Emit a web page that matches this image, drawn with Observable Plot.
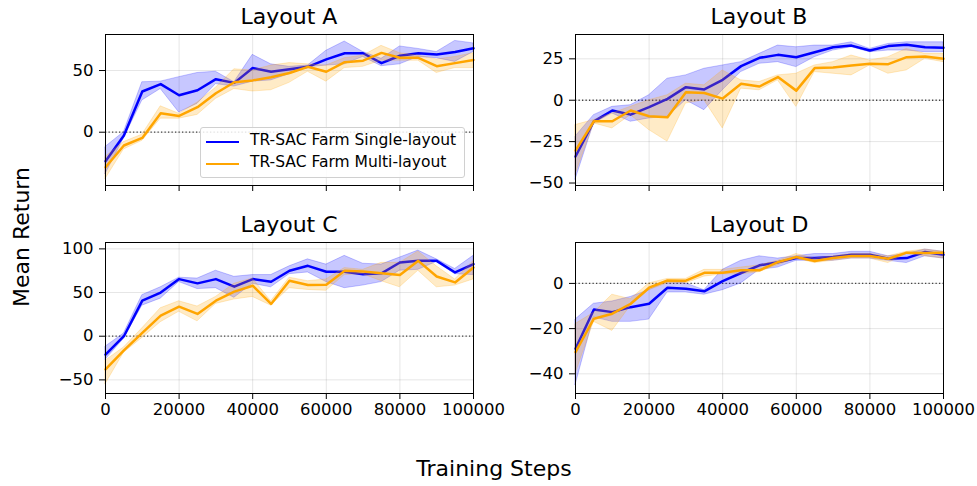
<!DOCTYPE html>
<html>
<head>
<meta charset="utf-8">
<script src="https://cdn.jsdelivr.net/npm/d3@7"></script>
<script src="https://cdn.jsdelivr.net/npm/@observablehq/plot@0.6"></script>
<style>
  html, body { margin: 0; padding: 0; background: white; overflow: hidden; }
  #root { position: relative; width: 977px; height: 486px; font-family: "DejaVu Sans", sans-serif; color: black; }
  .abs { position: absolute; }
  .title { font-size: 22px; white-space: nowrap; transform: translateX(-50%); line-height: 1; }
  .legend { position: absolute; background: rgba(255,255,255,0.85); border: 1px solid #d0d0d0; border-radius: 3px; box-sizing: border-box; font-size: 15.5px; }
  .legend .row { position: absolute; left: 0; white-space: nowrap; }
  .legend .sw { position: absolute; height: 2.6px; width: 33px; }
  .legend .lbl { position: absolute; line-height: 1; }
</style>
</head>
<body>
<div id="root"></div>
<script>
const steps = [0,5000,10000,15000,20000,25000,30000,35000,40000,45000,50000,55000,60000,65000,70000,75000,80000,85000,90000,95000,100000];
const seriesNames = ["TR-SAC Farm Single-layout", "TR-SAC Farm Multi-layout"];
const seriesColors = ["#0000ff", "#ffa500"];
const panelTitles = ["Layout A", "Layout B", "Layout C", "Layout D"];
const xTicks = [0,20000,40000,60000,80000,100000];

// Layout A
const aSingle   = [-23.5,-2.7,33,39,30,34,43,40,52,49,51,53,59,64,64,56,62,64,63,65,68];
const aSingleLo = [-34,-5,25.7,35,16,23,39,37,41,42,47,52.7,54,55,61,53.5,55,61,60,57,65];
const aSingleHi = [-12,0,40.5,41,44.6,48,49,40.5,62.7,55,53,54,66,73.5,65,59.5,69.5,67.5,65,74,72];
const aMulti    = [-28.4,-10.8,-4.6,15.4,13.2,20.3,31.6,40.5,42,44.6,48,53,49,56.8,58,64.3,60.3,60.3,53.5,56,58.6];
const aMultiLo  = [-38,-14,-7,11,11,14,27,35,33,34,40,49,41,52,53,58,58,58,48,52,52];
const aMultiHi  = [-20,-8,-2,21,15,24,36,51,50,54,56,55,54,60,62,70,64,62,59,61,64];
// Layout B
const bSingle   = [-34,-12.7,-6.2,-8.7,-4.2,0.8,7.9,6.5,12.3,20.6,25.6,27.4,26,29,32,33,30,32.7,33.5,32,31.7];
const bSingleLo = [-48,-14,-8,-13,-11,-10,0,-6,6,17,22,23,20,26,30,32,29,30,30,29,29];
const bSingleHi = [-22,-9,-4,-3,3,13,15,19,21,23,28,33,32,33,33,35,31,34,35,35,35];
const bMulti    = [-30.4,-12.7,-12.7,-6.2,-9.7,-10.3,4.8,4.4,1,9.9,8.3,14,5.8,19.4,19.8,21,22,21.8,26,26.4,25];
const bMultiLo  = [-45,-14,-17,-9,-18,-25,-2,0,-17,7,6,12,-4,17,16,15,21,16,18,25,23];
const bMultiHi  = [-15,-12,-8,-4,0,3,10,9,18,12,11,15,16,21,23,27,24,26,31,28,28];
// Layout C
const cSingle   = [-21,0,40.7,50,65.4,60.5,65.4,56.7,65.4,62.4,75,80.6,73.8,73.8,71,72,84.4,86.3,86.3,73,82.5];
const cSingleLo = [-27,-3,35,43,62,54,55,44,60,56,71,73,62,55,58,62,75,76,85,71,70];
const cSingleHi = [-12,3,47,56,67,66,75,68,70,70,80,88,82,92,83,82,90,98,88,77,92];
const cMulti    = [-38,-16.3,3.8,23.6,33.8,25.5,40.7,51,57.8,36.9,63.5,58.6,59,75,74,72,70,86.3,68.4,61.6,78.7];
const cMultiLo  = [-55,-19,-2,16,28,17,37,42,45,35,55,53,52,70,71,63,56,75,56,58,65];
const cMultiHi  = [-28,-13,9,32,40,34,45,60,66,40,67,63,65,78,76,84,84,97,80,65,86];
// Layout D
const dSingle   = [-28.9,-11.5,-12.7,-10.5,-9,-1.9,-2.4,-3.5,1,4.6,8,9.4,11.2,11.2,11.7,12.7,12.7,10.9,11.2,13.9,12.7];
const dSingleLo = [-45,-15,-17,-17,-16,-4,-4,-5,-3,0,6,7,10,10,10,11,11,10,9,12,11];
const dSingleHi = [-16,-9,-8,-6,-3,1,0,-3,6,10,12,11,12,13,13,14,14,12,13,15,14];
const dMulti    = [-30.4,-15.6,-13.4,-9,-1.9,1.3,1.2,4.7,4.7,5.8,5.8,9.4,11.7,9.9,11.2,12.1,12.1,10.9,13.6,13.4,13.6];
const dMultiLo  = [-40,-17,-21,-10,-3,0,0,3,4,4,5,8,11,9,10,11,11,9,13,12,11];
const dMultiHi  = [-18,-13,-5,-7,0,2,2,6,6,7,8,10,13,11,12,13,13,12,14,15,14];

const yDomains = [[-43.2,79.2],[-51.5,39.7],[-65.6,107.3],[-48.7,18.1]];
const yTickSets = [[0,50],[-50,-25,0,25],[-50,0,50,100],[-40,-20,0]];

const panels = [
  [[aSingle,aSingleLo,aSingleHi],[aMulti,aMultiLo,aMultiHi]],
  [[bSingle,bSingleLo,bSingleHi],[bMulti,bMultiLo,bMultiHi]],
  [[cSingle,cSingleLo,cSingleHi],[cMulti,cMultiLo,cMultiHi]],
  [[dSingle,dSingleLo,dSingleHi],[dMulti,dMultiLo,dMultiHi]]
];

const root = document.getElementById("root");
const fmt = d3.format("d");

// layout geometry of the plot frames
const frameLeft = [105, 575, 105, 575];
const frameTop = [34, 34, 242, 242];
const frameW = 368, frameH = 151;
const mL = 60, mR = 34, mT = 10, mB = 34;

panels.forEach((series, p) => {
  const bottomRow = p >= 2;
  const marks = [
    Plot.gridX(xTicks, {stroke: "#000", strokeOpacity: 0.1}),
    Plot.gridY(yTickSets[p], {stroke: "#000", strokeOpacity: 0.1}),
    Plot.ruleY([0], {stroke: "#444", strokeWidth: 1.3, strokeDasharray: "1.3,2.2"})
  ];
  series.forEach(([m, lo, hi], s) => {
    const rows = steps.map((x, i) => ({x, m: m[i], lo: lo[i], hi: hi[i]}));
    marks.push(Plot.areaY(rows, {x: "x", y1: "lo", y2: "hi", fill: seriesColors[s], fillOpacity: 0.22, stroke: seriesColors[s], strokeOpacity: 0.22, strokeWidth: 1}));
    marks.push(Plot.lineY(rows, {x: "x", y: "m", stroke: seriesColors[s], strokeWidth: 2.5}));
  });
  marks.push(Plot.axisX(xTicks, {tickSize: 6, tickPadding: 4, tickFormat: bottomRow ? fmt : () => "", label: null, fontSize: 16.5}));
  marks.push(Plot.axisY(yTickSets[p], {tickSize: 6, tickPadding: 6, tickFormat: fmt, label: null, fontSize: 16.5}));
  marks.push(Plot.frame({stroke: "#000", strokeWidth: 1}));

  const chart = Plot.plot({
    width: mL + frameW + mR,
    height: mT + frameH + mB,
    marginLeft: mL, marginRight: mR, marginTop: mT, marginBottom: mB,
    x: {domain: [0, 100000]},
    y: {domain: yDomains[p]},
    clip: false,
    style: {fontFamily: "DejaVu Sans", fontSize: "16.5px", color: "black", background: "transparent", overflow: "visible"},
    marks
  });
  chart.classList.add("abs");
  chart.style.left = (frameLeft[p] - mL) + "px";
  chart.style.top = (frameTop[p] - mT) + "px";
  root.appendChild(chart);

  const t = document.createElement("div");
  t.className = "abs title";
  t.textContent = panelTitles[p];
  t.style.left = (frameLeft[p] + frameW / 2) + "px";
  t.style.top = (frameTop[p] - 28) + "px";
  root.appendChild(t);
});

// legend (inside Layout A)
const lg = document.createElement("div");
lg.className = "legend";
lg.style.left = "200px"; lg.style.top = "127px"; lg.style.width = "265px"; lg.style.height = "51px";
seriesNames.forEach((name, i) => {
  const sw = document.createElement("div");
  sw.className = "sw";
  sw.style.background = seriesColors[i];
  sw.style.left = "5px";
  sw.style.top = (12.5 + i * 22) + "px";
  lg.appendChild(sw);
  const l = document.createElement("div");
  l.className = "lbl";
  l.textContent = name;
  l.style.left = "49px";
  l.style.top = (5 + i * 22) + "px";
  lg.appendChild(l);
});
root.appendChild(lg);

// shared axis labels
const yl = document.createElement("div");
yl.className = "abs";
yl.textContent = "Mean Return";
yl.style.cssText += "font-size:22px; white-space:nowrap; left:22px; top:237px; transform: translate(-50%,-50%) rotate(-90deg); line-height:1;";
root.appendChild(yl);

const xl = document.createElement("div");
xl.className = "abs";
xl.textContent = "Training Steps";
xl.style.cssText += "font-size:22px; white-space:nowrap; left:494px; top:458px; transform: translateX(-50%); line-height:1;";
root.appendChild(xl);
</script>
</body>
</html>
